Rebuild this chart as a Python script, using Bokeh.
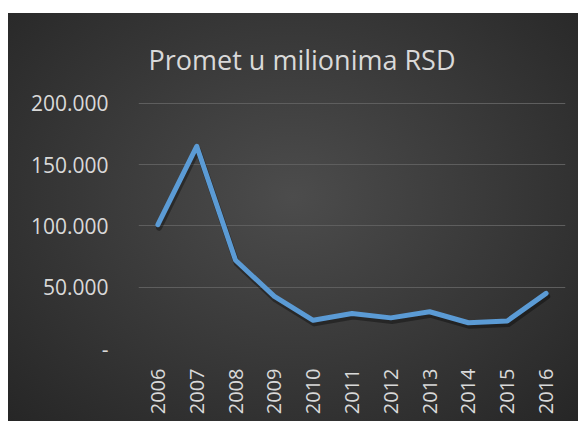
from bokeh.plotting import figure
from bokeh.models import FixedTicker, Range1d, ColumnDataSource
from bokeh.transform import dodge
from bokeh.embed import file_html
from bokeh.resources import INLINE

years = ["2006", "2007", "2008", "2009", "2010", "2011", "2012", "2013", "2014", "2015", "2016"]
promet = [101000, 165000, 72000, 42500, 23000, 28500, 25000, 30000, 21000, 22500, 45000]
y_ticks = [0, 50000, 100000, 150000, 200000]
y_tick_labels = ["-", "50.000", "100.000", "150.000", "200.000"]
title_text = "Promet u milionima RSD"

src = ColumnDataSource(dict(x=years, y=promet))

p = figure(x_range=years, y_range=Range1d(0, 204000),
           width=570, height=408, output_backend="svg", toolbar_location=None,
           title=title_text,
           min_border_left=130, min_border_right=13, min_border_top=85, min_border_bottom=73)
p.margin = (13, 0, 0, 8)
p.stylesheets = [":host { background: radial-gradient(ellipse farthest-corner at 50% 45%, #4c4c4c 0%, #262626 100%); }"]
p.border_fill_alpha = 0
p.background_fill_alpha = 0
p.outline_line_color = None

p.title.align = "left"
p.title.text_color = "#d9d9d9"
p.title.text_font = "Open Sans"
p.title.text_font_size = "27px"
p.title.text_font_style = "normal"
p.title.standoff = 42
p.title.offset = 10

p.yaxis.ticker = FixedTicker(ticks=y_ticks)
p.yaxis.major_label_overrides = {t: l for t, l in zip(y_ticks, y_tick_labels)}
for ax in (p.xaxis[0], p.yaxis[0]):
    ax.axis_line_color = None
    ax.major_tick_line_color = None
    ax.minor_tick_line_color = None
    ax.major_label_text_color = "#d9d9d9"
    ax.major_label_text_font = "Open Sans"
    ax.major_label_text_font_size = "20px"
p.yaxis.major_label_text_font_size = "21px"
p.yaxis.major_label_standoff = 24
p.xaxis.major_label_orientation = 1.5708
p.xaxis.major_label_standoff = 14

p.xgrid.grid_line_color = None
p.ygrid.ticker = FixedTicker(ticks=y_ticks)
p.ygrid.grid_line_color = "#5e5e5e"
p.ygrid.grid_line_width = 1

p.line(x=dodge("x", 0.03, range=p.x_range), y=dodge("y", -2500, range=p.y_range), source=src,
       line_color="black", line_alpha=0.35, line_width=6, line_join="round", line_cap="round")
p.line(x="x", y="y", source=src, line_color="#5b9bd5", line_width=5,
       line_join="round", line_cap="round")

open("out.html", "w").write(file_html(p, INLINE))
